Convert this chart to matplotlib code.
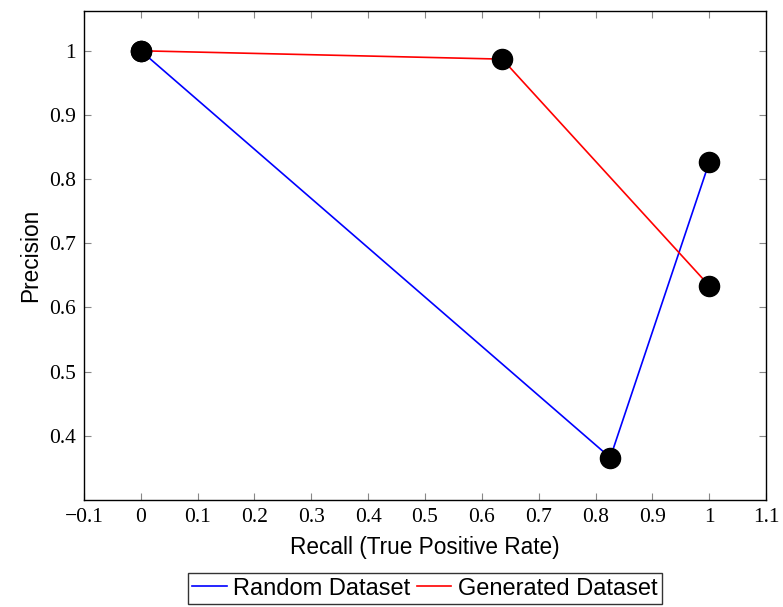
import matplotlib
matplotlib.use("Agg")
import matplotlib.pyplot as plt

random_recall = [0.0, 0.826, 1.0]
random_precision = [1.0, 0.366, 0.826]
generated_recall = [0.0, 0.636, 1.0]
generated_precision = [1.0, 0.987, 0.634]
xticks = [-0.1, 0, 0.1, 0.2, 0.3, 0.4, 0.5, 0.6, 0.7, 0.8, 0.9, 1, 1.1]
xticklabels = ["\u22120.1", "0", "0.1", "0.2", "0.3", "0.4", "0.5", "0.6", "0.7", "0.8", "0.9", "1", "1.1"]
yticks = [0.4, 0.5, 0.6, 0.7, 0.8, 0.9, 1]
yticklabels = ["0.4", "0.5", "0.6", "0.7", "0.8", "0.9", "1"]

fig = plt.figure(figsize=(7.83, 6.07), dpi=100)
ax = fig.add_axes([84/783, 1-500/607, (766-84)/783, (500-11)/607])

ax.plot(random_recall, random_precision, color="blue", lw=1.2, label="Random Dataset", zorder=2)
ax.plot(generated_recall, generated_precision, color="red", lw=1.2, label="Generated Dataset", zorder=2)
ax.scatter(random_recall + generated_recall, random_precision + generated_precision,
           s=14.5**2, color="black", zorder=3)

ax.set_xlim(-0.1, 1.1)
ax.set_ylim(0.300, 1.062)
ax.set_xticks(xticks)
ax.set_xticklabels(xticklabels, fontfamily="Liberation Serif", fontsize=15.5)
ax.set_yticks(yticks)
ax.set_yticklabels(yticklabels, fontfamily="Liberation Serif", fontsize=15.5)
ax.tick_params(direction="in", length=5, color="#888888", top=True, right=True, pad=6)
for s in ax.spines.values():
    s.set_linewidth(1.0)

ax.set_xlabel("Recall (True Positive Rate)", fontfamily="Liberation Sans", fontsize=16.3, labelpad=6)
ax.set_ylabel("Precision", fontfamily="Liberation Sans", fontsize=16.3, labelpad=5)

leg = ax.legend(loc="upper center", bbox_to_anchor=(0.5, -0.149), ncol=2,
                prop={"family": "Liberation Sans", "size": 17}, frameon=True, fancybox=False,
                edgecolor="black", handlelength=1.45, handletextpad=0.28, columnspacing=0.28,
                borderpad=0.2, borderaxespad=0)
leg.get_frame().set_linewidth(1.0)

fig.savefig("out.png", dpi=100)
